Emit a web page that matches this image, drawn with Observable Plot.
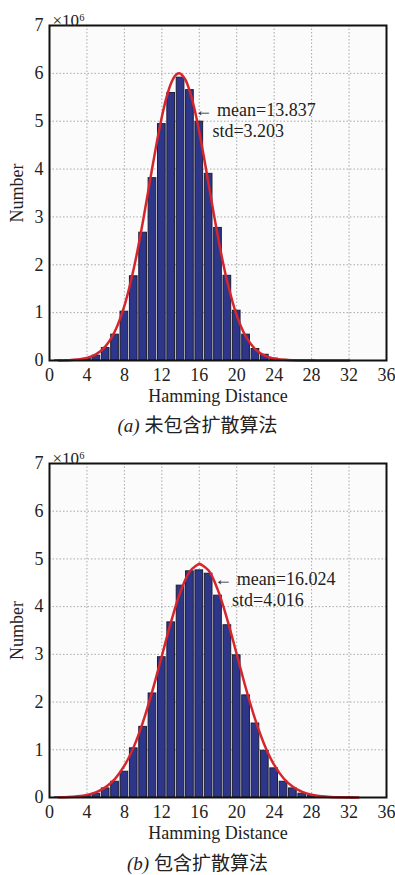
<!DOCTYPE html>
<html>
<head>
<meta charset="utf-8">
<script src="https://cdn.jsdelivr.net/npm/d3@7"></script>
<script src="https://cdn.jsdelivr.net/npm/@observablehq/plot@0.6"></script>
<style>
  html, body { margin: 0; padding: 0; background: #fff; }
  #wrap { position: relative; width: 395px; height: 875px; overflow: hidden; }
  .panel { position: absolute; left: 0; }
  .cap { position: absolute; left: 0; width: 395px; text-align: center;
         font-family: "Liberation Serif", "Noto Sans CJK SC", serif; font-size: 19px; color: #222; line-height: 20px; }
  .cap .cjk { font-family: "Noto Sans CJK SC", sans-serif; font-size: 19px; }
</style>
</head>
<body>
<div id="wrap">
  <div class="panel" id="pa" style="top:0px"></div>
  <div class="cap" style="top:414px"><i>(a)</i> <span class="cjk">未包含扩散算法</span></div>
  <div class="panel" id="pb" style="top:438px"></div>
  <div class="cap" style="top:852px"><i>(b)</i> <span class="cjk">包含扩散算法</span></div>
</div>
<script>
// ---- data (values in units of 10^6) ----
const xTicks = [0, 4, 8, 12, 16, 20, 24, 28, 32, 36];
const yTicks = [0, 1, 2, 3, 4, 5, 6, 7];

const distA = [1,2,3,4,5,6,7,8,9,10,11,12,13,14,15,16,17,18,19,20,21,22,23,24,25,26,27,28,29,30,31,32];
const countA = [0.002,0.004,0.012,0.035,0.10,0.26,0.54,1.02,1.76,2.67,3.81,4.94,5.59,5.91,5.65,4.99,3.90,2.77,1.77,1.04,0.54,0.24,0.12,0.04,0.015,0.005,0.002,0.001,0,0,0,0];

const distB = [1,2,3,4,5,6,7,8,9,10,11,12,13,14,15,16,17,18,19,20,21,22,23,24,25,26,27,28,29,30,31,32,33];
const countB = [0.002,0.005,0.01,0.03,0.08,0.19,0.33,0.54,1.03,1.48,2.18,2.94,3.67,4.44,4.74,4.76,4.69,4.23,3.61,2.98,2.14,1.55,0.98,0.61,0.33,0.19,0.08,0.04,0.015,0.005,0.002,0.001,0];

// fitted normal curves, read at these x positions
const fitXA = [1,2,3,4,5,6,7,8,9,9.5,10,10.5,11,11.5,12,12.5,13,13.5,13.837,14,14.5,15,15.5,16,16.5,17,17.5,18,18.5,19,20,21,22,23,24,25,26,27,28,29,30,31,32];
const fitYA = [0.002,0.0065,0.020,0.054,0.133,0.301,0.615,1.140,1.919,2.399,2.927,3.487,4.053,4.598,5.090,5.499,5.799,5.967,6.0,5.992,5.873,5.617,5.243,4.777,4.247,3.684,3.120,2.578,2.080,1.637,0.943,0.492,0.233,0.100,0.039,0.014,0.004,0.001,0.0003,0.0001,0,0,0];

const fitXB = [1,2,3,4,5,6,7,8,9,10,11,12,13,14,15,16,16.024,17,18,19,20,21,22,23,24,25,26,27,28,29,30,31,32,33];
const fitYB = [0.0045,0.011,0.026,0.055,0.113,0.217,0.392,0.666,1.061,1.591,2.241,2.966,3.691,4.316,4.743,4.900,4.9,4.757,4.341,3.724,3.002,2.274,1.620,1.084,0.682,0.403,0.224,0.117,0.057,0.027,0.012,0.005,0.002,0.0006];

const notes = [
  {panel: "a", lines: [{x: 15.5, y: 5.22, t: "\u2190 mean=13.837"}, {x: 17.4, y: 4.80, t: "std=3.203"}]},
  {panel: "b", lines: [{x: 17.6, y: 4.57, t: "\u2190 mean=16.024"}, {x: 19.5, y: 4.13, t: "std=4.016"}]}
];

function panel(dist, counts, fx, fy, note, plotH) {
  const bars = dist.map((d, i) => ({d, v: counts[i]}));
  const fit = fx.map((x, i) => ({x, y: fy[i]}));
  const mt = 25, mb = 50;
  return Plot.plot({
    width: 395,
    height: mt + plotH + mb,
    marginTop: mt, marginBottom: mb, marginLeft: 49, marginRight: 9,
    style: {fontFamily: "Liberation Serif, serif", fontSize: "18px", color: "#222", background: "#fff", overflow: "visible"},
    x: {domain: [0, 36]},
    y: {domain: [0, 7]},
    marks: [
      Plot.frame({fill: "#fbfbfb"}),
      Plot.gridX(xTicks, {stroke: "#a8a8a8", strokeOpacity: 1, strokeDasharray: "1.5,2"}),
      Plot.gridY(yTicks, {stroke: "#a8a8a8", strokeOpacity: 1, strokeDasharray: "1.5,2"}),
      Plot.rect(bars, {x1: d => d.d - 0.41, x2: d => d.d + 0.41, y1: 0, y2: "v", fill: "#2d3688", stroke: "#1d1d33", strokeWidth: 1}),
      Plot.line(fit, {x: "x", y: "y", stroke: "#d6262d", strokeWidth: 2.5, curve: "catmull-rom"}),
      Plot.frame({stroke: "#111", strokeWidth: 2}),
      Plot.axisX(xTicks, {tickSize: 0, tickPadding: 8, fontSize: 18, label: "Hamming Distance", labelAnchor: "center", labelArrow: "none", labelOffset: 41}),
      Plot.axisY(yTicks, {tickSize: 0, tickPadding: 6, fontSize: 18, label: "Number", labelAnchor: "center", labelArrow: "none", labelOffset: 39}),
      Plot.text(["\u00d710\u2076"], {frameAnchor: "top-left", dx: 3, dy: -12, textAnchor: "start", fontSize: 17}),
      Plot.text(note.lines, {x: "x", y: "y", text: "t", textAnchor: "start", fontSize: 18})
    ]
  });
}

document.getElementById("pa").appendChild(panel(distA, countA, fitXA, fitYA, notes[0], 335));
document.getElementById("pb").appendChild(panel(distB, countB, fitXB, fitYB, notes[1], 334));
</script>
</body>
</html>
